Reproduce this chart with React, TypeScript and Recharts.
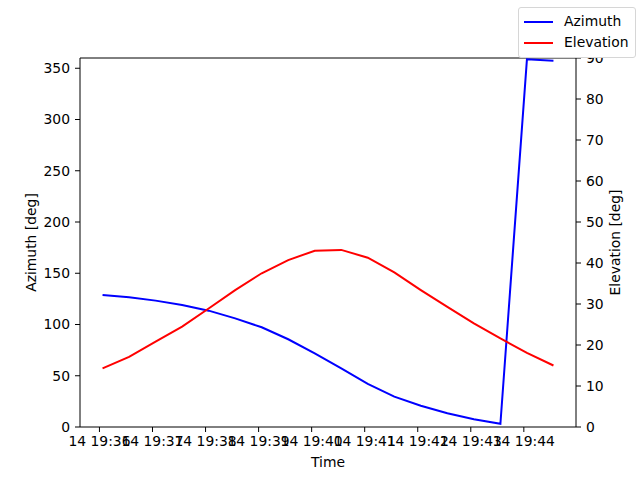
import React from 'react';
import { LineChart, Line, XAxis, YAxis, Legend, Label, ReferenceLine } from 'recharts';

// seconds after 19:36:00 (day 14), one sample every 30 s
const timeSec = [3.5, 33.5, 63.5, 93.5, 123.5, 153.5, 183.5, 213.5, 243.5, 273.5, 303.5, 333.5, 363.5, 393.5, 423.5, 453.5, 483.5, 513.5];
const azimuth = [128.8, 126.5, 123.3, 119.0, 113.5, 106.0, 97.3, 85.6, 71.9, 57.2, 42.0, 29.6, 20.8, 13.4, 7.5, 3.2, 358.7, 357.2];
const elevation = [14.3, 17.1, 20.8, 24.5, 28.9, 33.4, 37.5, 40.7, 43.0, 43.2, 41.3, 37.7, 33.4, 29.3, 25.3, 21.6, 18.1, 15.0];

const timeTicks = [0, 60, 120, 180, 240, 300, 360, 420, 480];
const azTicks = [0, 50, 100, 150, 200, 250, 300, 350];
const elTicks = [0, 10, 20, 30, 40, 50, 60, 70, 80, 90];

const data = timeSec.map((t, i) => ({ t, az: azimuth[i], el: elevation[i] }));

const FONT = 'DejaVu Sans, sans-serif';
const tickStyle = { fontSize: 13.9, fill: '#000', fontFamily: FONT };
const fmtTime = (s: number) => `14 19:${36 + Math.round(s / 60)}`;

// matplotlib-style 5% padding around the data
const padDomain = ([lo, hi]: readonly number[]) => {
  const pad = (hi - lo) * 0.05;
  return [lo - pad, hi + pad] as [number, number];
};

const legendItems = [
  { name: 'Azimuth', color: '#0000ff' },
  { name: 'Elevation', color: '#ff0000' },
];

function LegendBox() {
  return (
    <div style={{
      border: '1px solid #d6d6d6', borderRadius: 3, background: '#fff',
      padding: '3px 6px 4px 5px', fontFamily: FONT, fontSize: 13.9, lineHeight: '21px',
    }}>
      {legendItems.map((it) => (
        <div key={it.name} style={{ display: 'flex', alignItems: 'center' }}>
          <span style={{ display: 'inline-block', width: 29, height: 2, background: it.color, marginRight: 11 }} />
          <span>{it.name}</span>
        </div>
      ))}
    </div>
  );
}

const axisTitle = (text: string, x: number, y: number, angle = 0) => () => (
  <text x={x} y={y} transform={angle ? `rotate(${angle} ${x} ${y})` : undefined}
    textAnchor="middle" dominantBaseline="central" fontSize={13.9} fontFamily={FONT} fill="#000">
    {text}
  </text>
);

export default function App() {
  return (
    <div style={{ position: 'absolute', left: 0, top: 0, width: 640, height: 480, background: '#fff' }}>
      <LineChart width={640} height={480} data={data} margin={{ top: 58, right: 0, bottom: 0, left: 0 }}>
        <XAxis dataKey="t" type="number" domain={padDomain} ticks={timeTicks} tickFormatter={fmtTime}
          interval={0} height={53} tick={tickStyle} tickSize={5} tickMargin={4} allowDataOverflow
          axisLine={{ stroke: '#000' }} tickLine={{ stroke: '#000' }}>
          <Label content={axisTitle('Time', 328, 462)} />
        </XAxis>
        <YAxis yAxisId="left" domain={[0, 360]} ticks={azTicks} interval={0} width={80} tick={tickStyle}
          tickSize={5} tickMargin={5} axisLine={{ stroke: '#000' }} tickLine={{ stroke: '#000' }}>
          <Label content={axisTitle('Azimuth [deg]', 31, 242.5, -90)} />
        </YAxis>
        <YAxis yAxisId="right" orientation="right" domain={[0, 90]} ticks={elTicks} interval={0} width={64} tick={tickStyle}
          tickSize={5} tickMargin={5} axisLine={{ stroke: '#000' }} tickLine={{ stroke: '#000' }}>
          <Label content={axisTitle('Elevation [deg]', 615, 242.5, -90)} />
        </YAxis>
        <ReferenceLine yAxisId="left" y={360} stroke="#000" />
        <Line yAxisId="left" type="linear" dataKey="az" name="Azimuth" stroke="#0000ff" strokeWidth={2}
          dot={false} isAnimationActive={false} />
        <Line yAxisId="right" type="linear" dataKey="el" name="Elevation" stroke="#ff0000" strokeWidth={2}
          dot={false} isAnimationActive={false} />
        <Legend layout="horizontal" verticalAlign="middle" align="center" content={() => <LegendBox />}
          wrapperStyle={{ position: 'absolute', left: 518, top: 7, width: 'auto', height: 'auto' }} />
      </LineChart>
    </div>
  );
}
